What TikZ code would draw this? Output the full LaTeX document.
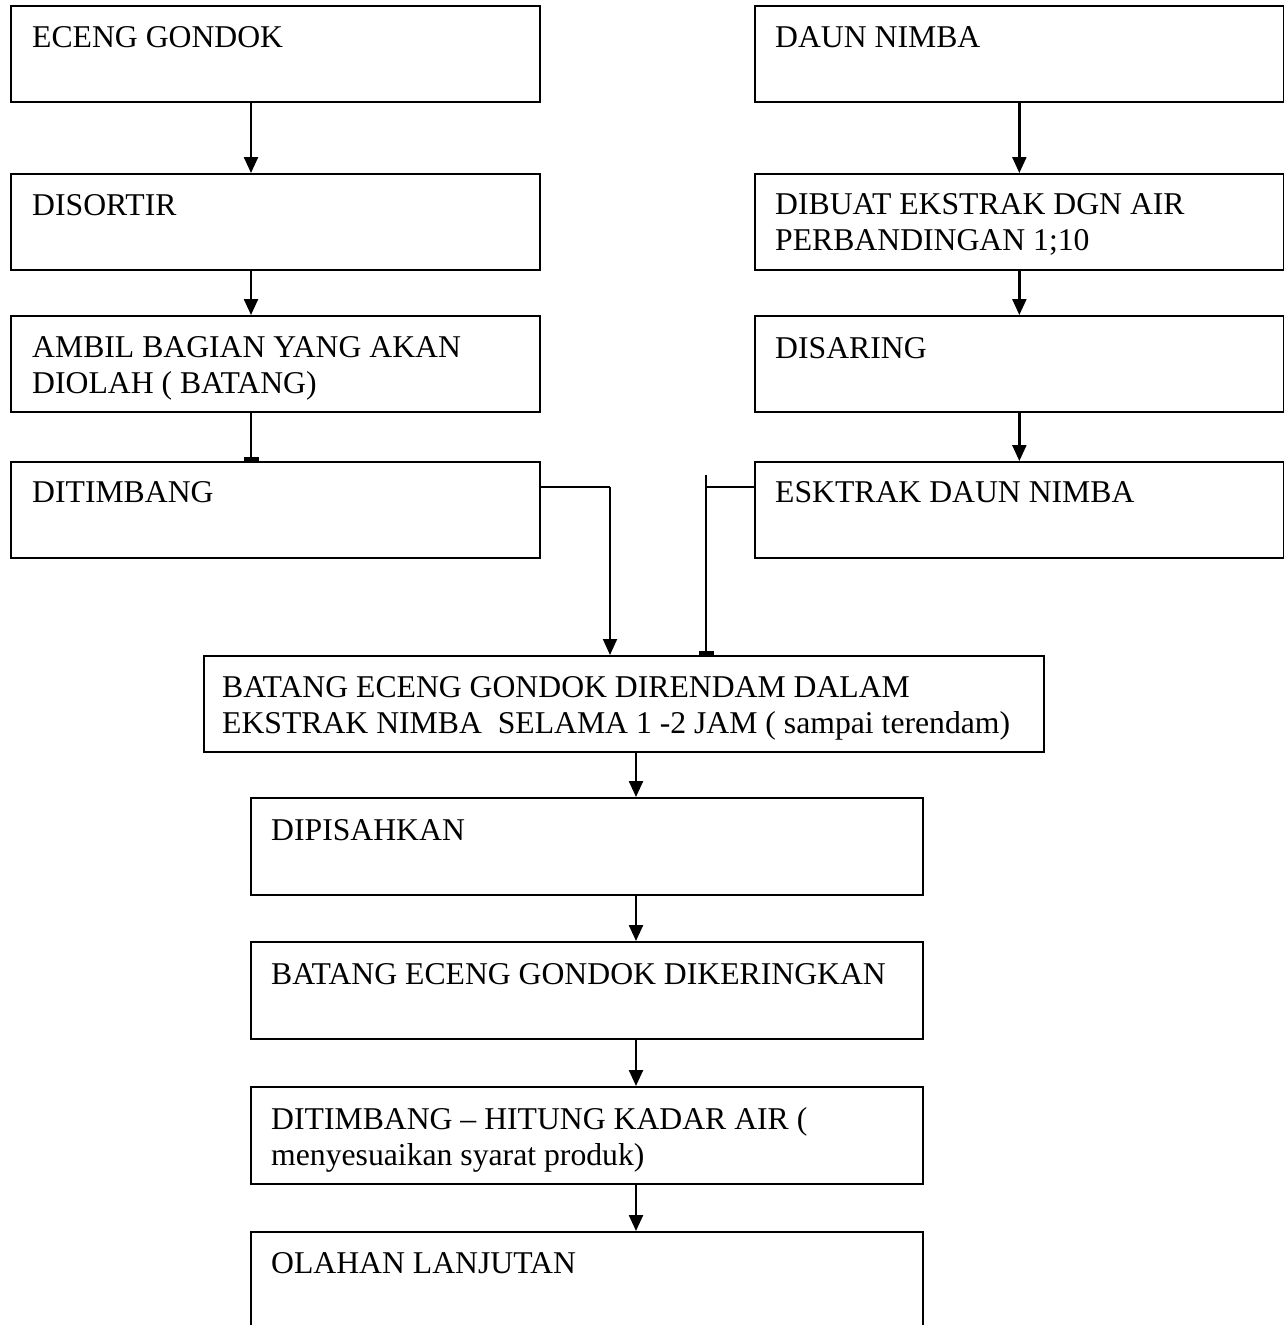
\documentclass[tikz,border=0pt]{standalone}
\usepackage{fontspec}
\setmainfont{Liberation Serif}
\usetikzlibrary{arrows.meta,calc}
\begin{document}
\begin{tikzpicture}[x=1pt,y=-1pt,
  box/.style={draw, line width=1.7pt, inner sep=0pt, anchor=north west},
  lbox/.style={box, minimum width=529pt, minimum height=96pt},
  cbox/.style={box, minimum width=672pt, minimum height=97pt},
  lbl/.style={anchor=base west, inner sep=0pt, font=\fontsize{31.7}{36}\selectfont},
  arr/.style={line width=2.4pt, -{Triangle[width=14pt,length=16pt]}},
  stub/.style={line width=2.4pt, -{Rectangle[width=15pt,length=4pt]}},
  conn/.style={line width=1.5pt}]
\useasboundingbox (0,0) rectangle (1284,1325);
\clip (0,0) rectangle (1284,1325);

% column coordinates
\coordinate (xl) at (251,0);
\coordinate (xc) at (636,0);
\coordinate (yj) at (0,487);
\coordinate (jl) at (610,487);
\coordinate (jr) at (706,487);
\coordinate (jrt) at (706,475);

% left column
\node[lbox] (b1) at (10,5) {};
\node[lbox] (b2) at (10,173) {};
\node[lbox] (b3) at (10,315) {};
\node[lbox] (b4) at (10,461) {};
\node[lbl] (t1) at (32,47) {ECENG GONDOK};
\node[lbl] (t2) at (32,215) {DISORTIR};
\node[lbl] (t3a) at (32,357) {AMBIL BAGIAN YANG AKAN};
\node[lbl] (t3b) at (32,393) {DIOLAH ( BATANG)};
\node[lbl] (t4) at (32,502) {DITIMBANG};

% right column
\node[lbox] (r1) at (754,5) {};
\node[lbox] (r2) at (754,173) {};
\node[lbox] (r3) at (754,315) {};
\node[lbox] (r4) at (754,461) {};
\node[lbl] (s1) at (775,47) {DAUN NIMBA};
\node[lbl] (s2a) at (775,214) {DIBUAT EKSTRAK DGN AIR};
\node[lbl] (s2b) at (775,250) {PERBANDINGAN 1;10};
\node[lbl] (s3) at (775,358) {DISARING};
\node[lbl] (s4) at (775,502) {ESKTRAK DAUN NIMBA};

% big box
\node[box, minimum width=840pt, minimum height=96pt] (big) at (203,655) {};
\node[lbl] (m1) at (222,697) {BATANG ECENG GONDOK DIRENDAM DALAM};
\node[lbl] (m2) at (222,733) {EKSTRAK NIMBA\ \ SELAMA 1 -2 JAM ( sampai terendam)};

% center column
\node[cbox] (c1) at (250,797) {};
\node[cbox] (c2) at (250,941) {};
\node[cbox] (c3) at (250,1086) {};
\node[cbox, minimum height=140pt] (c4) at (250,1231) {};
\node[lbl] (u1) at (271,840) {DIPISAHKAN};
\node[lbl] (u2) at (271,984) {BATANG ECENG GONDOK DIKERINGKAN};
\node[lbl] (u3a) at (271,1129) {DITIMBANG -- HITUNG KADAR AIR (};
\node[lbl] (u3b) at (271,1165) {menyesuaikan syarat produk)};
\node[lbl] (u4) at (271,1273) {OLAHAN LANJUTAN};

% connectors left
\draw[arr] (b1.south -| xl) -- (b2.north -| xl);
\draw[arr] (b2.south -| xl) -- (b3.north -| xl);
\draw[stub] (b3.south -| xl) -- (b4.north -| xl);
% connectors right
\draw[arr] (r1.south) -- (r2.north);
\draw[arr] (r2.south) -- (r3.north);
\draw[arr] (r3.south) -- (r4.north);
% joins
\draw[conn] (b4.east |- yj) -- (jl);
\draw[conn, line width=2pt, -{Triangle[width=14pt,length=16pt]}] (jl) -- (jl |- big.north);
\draw[conn] (r4.west |- yj) -- (jr);
\draw[stub] (jrt) -- (jrt |- big.north);
% center
\draw[arr] (big.south -| xc) -- (c1.north -| xc);
\draw[arr] (c1.south -| xc) -- (c2.north -| xc);
\draw[arr] (c2.south -| xc) -- (c3.north -| xc);
\draw[arr] (c3.south -| xc) -- (c4.north -| xc);
\end{tikzpicture}
\end{document}
